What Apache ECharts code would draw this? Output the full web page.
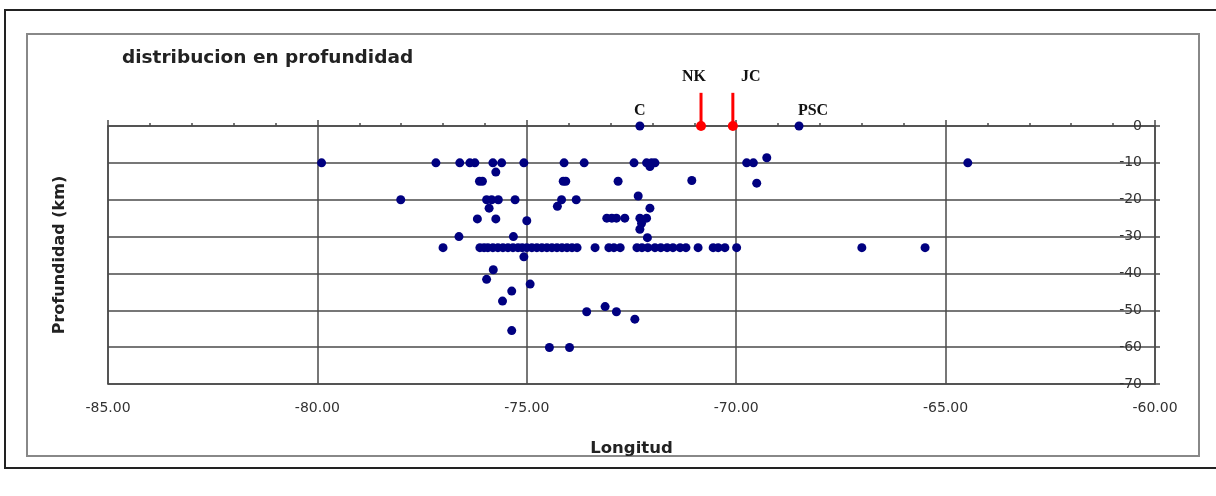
<!DOCTYPE html>
<html>
<head>
<meta charset="utf-8">
<script src="https://cdn.jsdelivr.net/npm/echarts@6/dist/echarts.min.js"></script>
<style>html,body{margin:0;padding:0;background:#fff}#c{width:1216px;height:496px}</style>
</head>
<body>
<div id="c"></div>
<script>
// Earthquake points: longitude and depth (km, negative)
const quakeLon = [
  -79.9,-77.17,-76.6,-76.36,-76.24,-75.81,-75.6,-75.07,-74.11,-73.63,-72.44,-72.14,-72.02,-71.94,-69.75,-69.59,-64.47,
  -75.74,-72.06,-69.27,
  -76.13,-76.06,-74.13,-74.07,-72.82,-71.06,-69.51,
  -78.01,-75.96,-75.84,-75.68,-75.9,-75.28,-74.27,-74.17,-73.82,-72.34,-72.06,
  -76.18,-75.74,-75.0,-73.09,-72.97,-72.86,-72.66,-72.3,-72.14,-72.26,-72.3,
  -76.62,-75.32,-72.12,
  -77.0,-76.12,-76.02,-75.93,-75.81,-75.69,-75.57,-75.45,-75.33,-75.21,-75.11,-75.0,-74.88,-74.76,-74.64,-74.52,-74.4,-74.28,-74.16,-74.04,-73.92,-73.8,
  -73.37,-73.04,-72.92,-72.77,-72.37,-72.25,-72.11,-71.94,-71.8,-71.65,-71.51,-71.34,-71.2,-70.91,-70.55,-70.43,-70.27,-69.99,-67.0,-65.49,
  -75.07,-75.8,-75.96,-74.92,-75.36,-75.58,-73.57,-73.13,-72.86,-72.42,-75.36,-74.46,-73.98
];
const quakeDepth = [
  -10,-10,-10,-10,-10,-10,-10,-10,-10,-10,-10,-10,-10,-10,-10,-10,-10,
  -12.5,-11,-8.6,
  -15,-15,-15,-15,-15,-14.8,-15.5,
  -20,-20,-20,-20,-22.3,-20,-21.8,-20,-20,-19,-22.3,
  -25.2,-25.2,-25.7,-25,-25,-25,-25,-25,-25,-26.4,-28,
  -30,-30,-30.3,
  -33,-33,-33,-33,-33,-33,-33,-33,-33,-33,-33,-33,-33,-33,-33,-33,-33,-33,-33,-33,-33,-33,
  -33,-33,-33,-33,-33,-33,-33,-33,-33,-33,-33,-33,-33,-33,-33,-33,-33,-33,-33,-33,
  -35.5,-39,-41.6,-42.9,-44.8,-47.5,-50.4,-49,-50.4,-52.4,-55.5,-60.1,-60.1
];
// Reference stations on the surface
const siteNames = ['C','PSC'];
const siteLon = [-72.3,-68.5];
const siteDepth = [0,0];
// Highlighted stations (red markers with vertical stick)
const redNames = ['NK','JC'];
const redLon = [-70.84,-70.08];
const redDepth = [0,0];
const redStickTop = [9,9];
const xTicks = [-85,-80,-75,-70,-65,-60];
const yTicks = [0,-10,-20,-30,-40,-50,-60,-70];

const chart = echarts.init(document.getElementById('c'), null, {renderer:'canvas'});
const sans = 'DejaVu Sans';
const serif = 'Liberation Serif';
const gridColor = '#4a4a4a';

const quakeData = quakeLon.map((x,i)=>[x, quakeDepth[i]]);
const labelOffsets = {C:[0,0], PSC:[14,0], NK:[-7,0], JC:[18,0]};
const siteData = siteLon.map((x,i)=>({value:[x, siteDepth[i]], name: siteNames[i], label:{offset:labelOffsets[siteNames[i]]}}));
const redDots = redLon.map((x,i)=>[x, redDepth[i]]);

const series = [];
redLon.forEach((x,i)=>{
  series.push({
    type:'line', xAxisIndex:0, yAxisIndex:0, clip:false, silent:true,
    data:[[x, redDepth[i]],[x, redStickTop[i]]],
    symbol:'none', lineStyle:{color:'#ff0000', width:3, opacity:1}, z:3
  });
  series.push({
    type:'scatter', xAxisIndex:0, yAxisIndex:0, clip:false, silent:true,
    data:[{value:[x, redStickTop[i]], name: redNames[i]}],
    symbolSize:0.1, itemStyle:{color:'rgba(0,0,0,0)'},
    label:{show:true, position:'top', distance:8, offset:labelOffsets[redNames[i]],
      formatter:'{b}', fontFamily:serif, fontWeight:'bold', fontSize:16, color:'#111', opacity:1}
  });
});
series.push({
  type:'scatter', xAxisIndex:0, yAxisIndex:0, clip:false, silent:true,
  data:quakeData, symbolSize:9, itemStyle:{color:'#000080', opacity:1}, z:4
});
series.push({
  type:'scatter', xAxisIndex:0, yAxisIndex:0, clip:false, silent:true,
  data:siteData, symbolSize:9, itemStyle:{color:'#000080', opacity:1}, z:4,
  label:{show:true, position:'top', distance:3, formatter:(p)=>p.name,
    fontFamily:serif, fontWeight:'bold', fontSize:16, color:'#111', opacity:1}
});
series.push({
  type:'scatter', xAxisIndex:0, yAxisIndex:0, clip:false, silent:true,
  data:redDots, symbolSize:10, itemStyle:{color:'#ff0000', opacity:1}, z:5
});

chart.setOption({
  animation:false,
  backgroundColor:'#fff',
  title:{text:'distribucion en profundidad', left:117, top:44,
    textStyle:{fontFamily:sans, fontWeight:'bold', fontSize:18.5, color:'#222'}},
  graphic:[
    {type:'rect', shape:{x:5, y:10, width:1240, height:458}, style:{fill:'none', stroke:'#222', lineWidth:2}, silent:true},
    {type:'rect', shape:{x:27, y:34, width:1172, height:422}, style:{fill:'none', stroke:'#888', lineWidth:2}, silent:true}
  ],
  grid:{left:108, right:61, top:126, bottom:112, containLabel:false},
  xAxis:[
    {type:'value', position:'bottom', min:xTicks[0], max:xTicks[xTicks.length-1], interval:5,
      axisLine:{show:true, onZero:false, lineStyle:{color:gridColor, width:1.5}},
      axisTick:{show:false},
      splitLine:{show:true, lineStyle:{color:gridColor, width:1.5}},
      axisLabel:{show:true, margin:17, fontFamily:sans, fontSize:14, color:'#333',
        formatter:(v)=>v.toFixed(2)},
      name:'Longitud', nameLocation:'middle', nameGap:56,
      nameTextStyle:{fontFamily:sans, fontWeight:'bold', fontSize:16.5, color:'#222'}},
    {type:'value', position:'top', min:xTicks[0], max:xTicks[xTicks.length-1], interval:5,
      axisLine:{show:true, onZero:false, lineStyle:{color:gridColor, width:1.5}},
      axisTick:{show:true, length:6, lineStyle:{color:gridColor, width:1.5}},
      minorTick:{show:true, splitNumber:5, length:3, lineStyle:{color:gridColor, width:1.5}},
      splitLine:{show:false}, axisLabel:{show:false}}
  ],
  yAxis:[
    {type:'value', position:'right', min:yTicks[yTicks.length-1], max:yTicks[0], interval:10,
      axisLine:{show:true, onZero:false, lineStyle:{color:gridColor, width:1.5}},
      axisTick:{show:true, length:5, lineStyle:{color:gridColor, width:1.5}},
      splitLine:{show:true, lineStyle:{color:gridColor, width:1.5}},
      axisLabel:{show:true, inside:true, margin:13, fontFamily:sans, fontSize:14, color:'#333'}},
    {type:'value', position:'left', min:yTicks[yTicks.length-1], max:yTicks[0], interval:10,
      axisLine:{show:true, onZero:false, lineStyle:{color:gridColor, width:1.5}},
      axisTick:{show:false}, splitLine:{show:false}, axisLabel:{show:false},
      name:'Profundidad (km)', nameLocation:'middle', nameGap:40,
      nameTextStyle:{fontFamily:sans, fontWeight:'bold', fontSize:16, color:'#222'}}
  ],
  series:series
});
</script>
</body>
</html>
